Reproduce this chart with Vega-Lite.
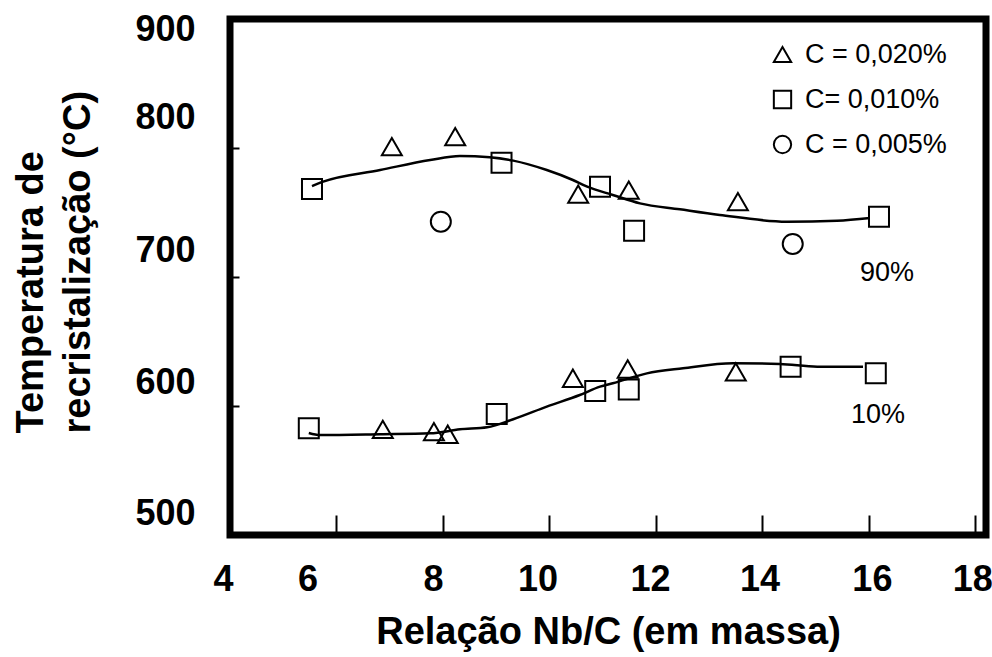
{
  "$schema": "https://vega.github.io/schema/vega-lite/v6.json",
  "width": 756,
  "height": 516,
  "autosize": {"type": "none"},
  "padding": {"left": 230, "top": 19, "right": 6, "bottom": 122},
  "background": "white",
  "config": {
    "view": {"stroke": "black", "strokeWidth": 7},
    "font": "Liberation Sans",
    "axis": {
      "grid": false,
      "domain": false,
      "tickColor": "black",
      "tickWidth": 2,
      "labelColor": "black",
      "titleColor": "black",
      "labelFont": "Liberation Sans",
      "titleFont": "Liberation Sans",
      "labelFontWeight": "bold",
      "titleFontWeight": "bold",
      "labelFlush": false,
      "labelOverlap": false,
      "labelBound": false
    }
  },
  "datasets": {
    "points": [
      {"x": 7.04, "y": 801.0, "serie": "C = 0,020%"},
      {"x": 8.23, "y": 808.8, "serie": "C = 0,020%"},
      {"x": 10.54, "y": 764.3, "serie": "C = 0,020%"},
      {"x": 11.49, "y": 767.4, "serie": "C = 0,020%"},
      {"x": 13.54, "y": 758.4, "serie": "C = 0,020%"},
      {"x": 6.87, "y": 581.9, "serie": "C = 0,020%"},
      {"x": 7.83, "y": 580.1, "serie": "C = 0,020%"},
      {"x": 8.09, "y": 578.1, "serie": "C = 0,020%"},
      {"x": 10.44, "y": 621.5, "serie": "C = 0,020%"},
      {"x": 11.47, "y": 628.7, "serie": "C = 0,020%"},
      {"x": 13.5, "y": 626.4, "serie": "C = 0,020%"},
      {"x": 5.54, "y": 768.2, "serie": "C= 0,010%"},
      {"x": 9.1, "y": 788.6, "serie": "C= 0,010%"},
      {"x": 10.95, "y": 770.0, "serie": "C= 0,010%"},
      {"x": 11.59, "y": 735.9, "serie": "C= 0,010%"},
      {"x": 16.19, "y": 746.7, "serie": "C= 0,010%"},
      {"x": 5.48, "y": 582.7, "serie": "C= 0,010%"},
      {"x": 9.01, "y": 593.8, "serie": "C= 0,010%"},
      {"x": 10.86, "y": 611.6, "serie": "C= 0,010%"},
      {"x": 11.49, "y": 612.8, "serie": "C= 0,010%"},
      {"x": 14.53, "y": 630.5, "serie": "C= 0,010%"},
      {"x": 16.13, "y": 625.3, "serie": "C= 0,010%"},
      {"x": 7.96, "y": 742.9, "serie": "C = 0,005%"},
      {"x": 14.57, "y": 725.6, "serie": "C = 0,005%"}
    ],
    "curves": [
      {"curve": "90%", "x": 5.54, "y": 770.5},
      {"curve": "90%", "x": 5.75, "y": 773.9},
      {"curve": "90%", "x": 6.82, "y": 782.9},
      {"curve": "90%", "x": 7.76, "y": 790.7},
      {"curve": "90%", "x": 8.32, "y": 793.8},
      {"curve": "90%", "x": 8.88, "y": 792.8},
      {"curve": "90%", "x": 9.32, "y": 790.2},
      {"curve": "90%", "x": 9.95, "y": 782.9},
      {"curve": "90%", "x": 10.44, "y": 775.2},
      {"curve": "90%", "x": 10.71, "y": 770.0},
      {"curve": "90%", "x": 11.19, "y": 763.6},
      {"curve": "90%", "x": 11.7, "y": 757.1},
      {"curve": "90%", "x": 12.45, "y": 752.5},
      {"curve": "90%", "x": 13.2, "y": 748.1},
      {"curve": "90%", "x": 14.46, "y": 742.9},
      {"curve": "90%", "x": 15.4, "y": 743.6},
      {"curve": "90%", "x": 16.02, "y": 745.7},
      {"curve": "10%", "x": 5.48, "y": 579.1},
      {"curve": "10%", "x": 5.69, "y": 577.5},
      {"curve": "10%", "x": 6.82, "y": 578.1},
      {"curve": "10%", "x": 7.76, "y": 578.8},
      {"curve": "10%", "x": 8.32, "y": 581.9},
      {"curve": "10%", "x": 8.83, "y": 583.5},
      {"curve": "10%", "x": 9.32, "y": 589.7},
      {"curve": "10%", "x": 9.95, "y": 599.5},
      {"curve": "10%", "x": 10.57, "y": 608.5},
      {"curve": "10%", "x": 10.95, "y": 615.0},
      {"curve": "10%", "x": 11.19, "y": 617.6},
      {"curve": "10%", "x": 11.83, "y": 625.3},
      {"curve": "10%", "x": 12.51, "y": 629.2},
      {"curve": "10%", "x": 13.45, "y": 633.1},
      {"curve": "10%", "x": 14.33, "y": 632.6},
      {"curve": "10%", "x": 15.03, "y": 630.5},
      {"curve": "10%", "x": 15.89, "y": 630.5}
    ],
    "notes": [
      {"x": 16.34, "y": 703.1, "label": "90%"},
      {"x": 16.17, "y": 593.0, "label": "10%"}
    ]
  },
  "encoding": {
    "x": {
      "field": "x",
      "type": "quantitative",
      "scale": {"domain": [4, 18.2], "nice": false, "zero": false},
      "axis": {
        "values": [4, 6, 8, 10, 12, 14, 16, 18],
        "tickSize": -20,
        "labelFontSize": 36,
        "labelBaseline": "alphabetic",
        "labelPadding": 75,
        "labelOffset": {
          "condition": [
            {"test": "datum.value == 4", "value": -7},
            {"test": "datum.value == 6", "value": -29},
            {"test": "datum.value == 8", "value": -10},
            {"test": "datum.value == 10", "value": -12},
            {"test": "datum.value == 12", "value": -6},
            {"test": "datum.value == 16", "value": 3}
          ],
          "value": -3
        },
        "title": "Relação Nb/C (em massa)",
        "titleFontSize": 38,
        "titleBaseline": "alphabetic",
        "titleY": 108
      }
    },
    "y": {
      "field": "y",
      "type": "quantitative",
      "scale": {"domain": [500, 900], "nice": false, "zero": false},
      "axis": {
        "values": [500, 600, 700, 800, 900],
        "tickSize": -9,
        "labelFontSize": 36,
        "labelPadding": 44,
        "labelOffset": {
          "condition": [
            {"test": "datum.value == 900", "value": 10},
            {"test": "datum.value == 800", "value": -31},
            {"test": "datum.value == 700", "value": -27},
            {"test": "datum.value == 600", "value": -24}
          ],
          "value": -22
        },
        "title": ["Temperatura de", "recristalização (°C)"],
        "titleFontSize": 38,
        "titleAngle": -90,
        "titleAlign": "left",
        "titleBaseline": "middle",
        "titleLineHeight": 47,
        "titleX": -199,
        "titleY": 414
      }
    }
  },
  "layer": [
    {
      "data": {"name": "curves"},
      "mark": {"type": "line", "color": "black", "strokeWidth": 2.5, "interpolate": "monotone"},
      "encoding": {"detail": {"field": "curve", "type": "nominal"}}
    },
    {
      "data": {"name": "points"},
      "mark": {"type": "point", "filled": false, "color": "black", "strokeWidth": 2, "size": 400, "opacity": 1},
      "encoding": {
        "shape": {
          "field": "serie",
          "type": "nominal",
          "scale": {"domain": ["C = 0,020%", "C= 0,010%", "C = 0,005%"], "range": ["triangle-up", "square", "circle"]},
          "legend": {
            "title": null,
            "orient": "none",
            "legendX": 539,
            "legendY": 22,
            "padding": 0,
            "symbolSize": 300,
            "symbolStrokeWidth": 2,
            "symbolStrokeColor": "black",
            "symbolFillColor": "transparent",
            "labelFontSize": 27,
            "labelFont": "Liberation Sans",
            "labelColor": "black",
            "labelOffset": 9,
            "rowPadding": 17
          }
        }
      }
    },
    {
      "data": {"name": "notes"},
      "mark": {"type": "text", "fontSize": 27, "font": "Liberation Sans", "color": "black", "align": "center", "baseline": "middle"},
      "encoding": {"text": {"field": "label", "type": "nominal"}}
    }
  ]
}
